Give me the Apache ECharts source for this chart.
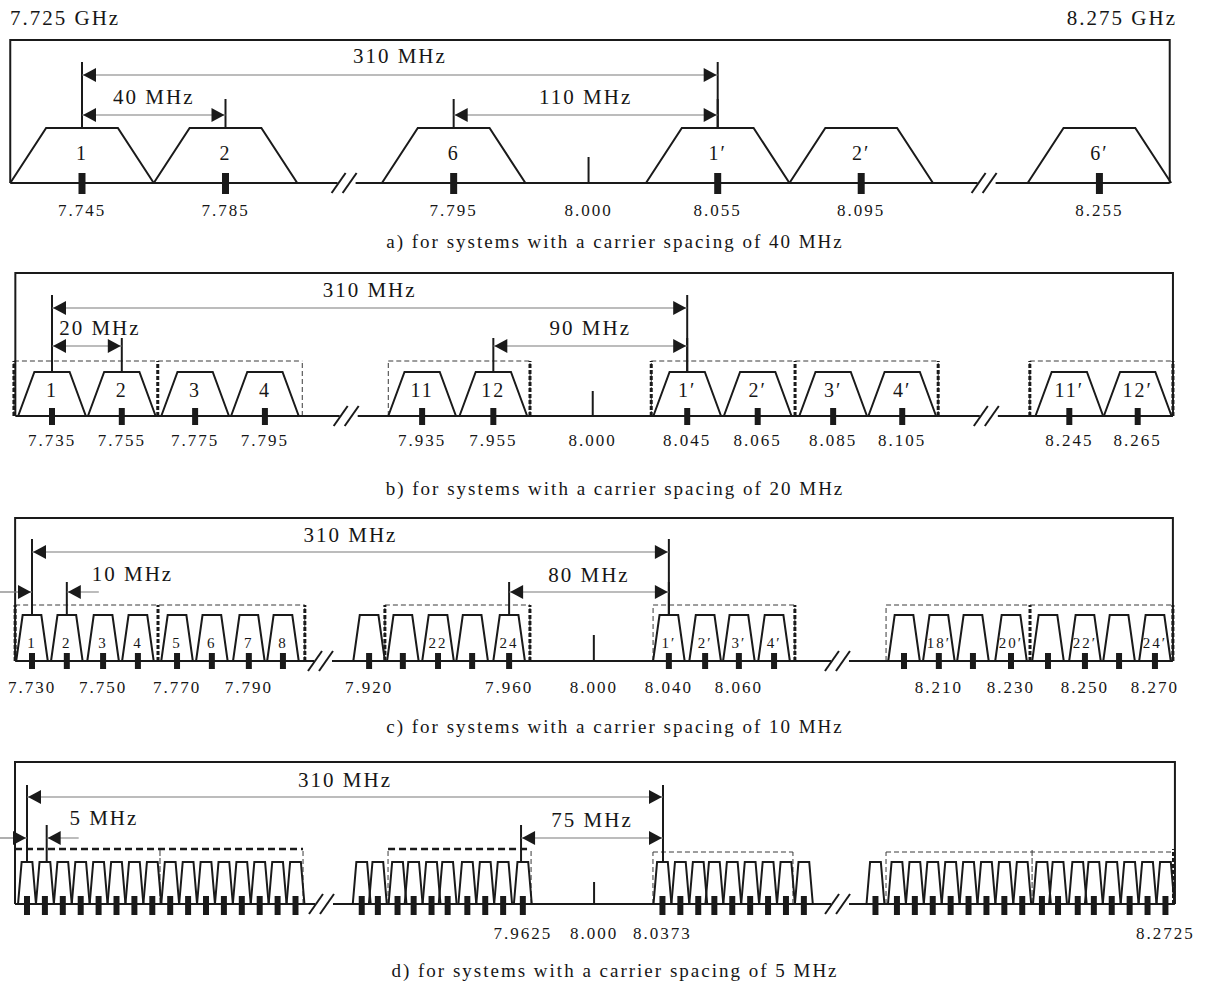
<!DOCTYPE html>
<html>
<head>
<meta charset="utf-8">
<title>RF channel arrangement 7.725 - 8.275 GHz</title>
<script src="https://cdn.jsdelivr.net/npm/echarts@6/dist/echarts.min.js"></script>
<style>
  html, body { margin: 0; padding: 0; background: #fff; }
  #chart { width: 1206px; height: 992px; }
  #chart svg text { letter-spacing: 2px; }
</style>
</head>
<body>
<div id="chart"></div>
<script>
// positions are in carrier slots of each panel (1 slot = one carrier spacing on the drawing)

// a) 40 MHz
var aSlot = [0, 1, 2.59, 4.43, 5.43, 7.09];
var aNum = ['1', '2', '6', '1′', '2′', '6′'];
var aFreq = ['7.745', '7.785', '7.795', '8.055', '8.095', '8.255'];
var aFrame = [-0.5, 7.58];
var aBreaks = [1.83, 6.29];
var aMid = [3.53];
var aSpanFrom = [0, 0, 2.59];
var aSpanTo = [4.43, 1, 4.43];
var aSpanText = ['310 MHz', '40 MHz', '110 MHz'];

// b) 20 MHz
var bSlot = [0, 0.99, 2.03, 3.02, 5.25, 6.26, 9.01, 10.01, 11.08, 12.06, 14.43, 15.4];
var bNum = ['1', '2', '3', '4', '11', '12', '1′', '2′', '3′', '4′', '11′', '12′'];
var bFreq = ['7.735', '7.755', '7.775', '7.795', '7.935', '7.955', '8.045', '8.065', '8.085', '8.105', '8.245', '8.265'];
var bFrame = [-0.52, 15.9];
var bBreaks = [4.18, 13.26];
var bMid = [7.67];
var bBoxes = [[-0.54, 3.55], [4.77, 6.78], [8.5, 12.57], [13.87, 15.9]];
var bHeavy = [-0.54, 1.5, 6.78, 8.5, 10.54, 12.57, 13.87, 15.9];
var bSpanFrom = [0, 0, 6.26];
var bSpanTo = [9.01, 0.99, 9.01];
var bSpanText = ['310 MHz', '20 MHz', '90 MHz'];

// c) 10 MHz
var cSlot = [0, 0.97, 1.98, 2.95, 4.04, 5.01, 6.04, 6.99,
  9.39, 10.33, 11.31, 12.26, 13.29,
  17.74, 18.75, 19.69, 20.67,
  24.29, 25.26, 26.21, 27.27, 28.3, 29.33, 30.28, 31.28];
var cNum = ['1', '2', '3', '4', '5', '6', '7', '8',
  '', '', '22', '', '24',
  '1′', '2′', '3′', '4′',
  '', '18′', '', '20′', '', '22′', '', '24′'];
var cFreq = ['7.730', '', '7.750', '', '7.770', '', '7.790', '',
  '7.920', '', '', '', '7.960',
  '8.040', '', '8.060', '',
  '', '8.210', '', '8.230', '', '8.250', '', '8.270'];
var cFrame = [-0.47, 31.78];
var cBreaks = [8.05, 22.45];
var cMid = [15.65];
var cBoxes = [[-0.47, 7.6], [9.83, 13.87], [17.3, 21.25], [23.79, 31.78]];
var cHeavy = [-0.47, 3.51, 7.6, 9.83, 13.87, 21.25, 27.8, 31.78];
var cSpanFrom = [0, 0, 13.29];
var cSpanTo = [17.74, 0.97, 17.74];
var cSpanText = ['310 MHz', '10 MHz', '80 MHz'];

// d) 5 MHz
var dSlot = [0, 1, 2, 3, 4, 5, 6, 7, 8, 9, 10, 11, 12, 13, 14, 15,
  18.7, 19.6, 20.7, 21.6, 22.6, 23.5, 24.6, 25.6, 26.6, 27.7,
  35.5, 36.5, 37.5, 38.4, 39.4, 40.4, 41.4, 42.4, 43.4,
  47.4, 48.6, 49.6, 50.6, 51.6, 52.6, 53.6, 54.6, 55.6, 56.7, 57.6, 58.7, 59.6, 60.6, 61.6, 62.6, 63.6];
var dFreq = ['', '', '', '', '', '', '', '', '', '', '', '', '', '', '', '',
  '', '', '', '', '', '', '', '', '', '7.9625',
  '8.0373', '', '', '', '', '', '', '', '',
  '', '', '', '', '', '', '', '', '', '', '', '', '', '', '', '', '8.2725'];
var dFrame = [-0.67, 64.13];
var dBreaks = [16.48, 45.31];
var dMid = [31.68];
var dBoxes = [[-0.67, 15.42], [20.17, 28.16], [34.97, 42.79], [47.99, 64.13]];
var dHeavy = [64.05];
var dDivide = [7.43, 56.15];
var dSpanFrom = [0, 0, 27.6];
var dSpanTo = [35.53, 1.1, 35.53];
var dSpanText = ['310 MHz', '5 MHz', '75 MHz'];

var midLabel = '8.000';

var W = 1206;
var INK = '#1a1a1a';
var TXT = '#161616';
var FONT = '"Liberation Serif", "Times New Roman", serif';
var BASE = { stroke: INK, lineWidth: 2 };
var EXT = { stroke: INK, lineWidth: 2 };
var SHAFT = { stroke: '#7a7a7a', lineWidth: 1.2 };

var panels = [
  { top: 40, base: 183, x0: 82, sp: 143.5, h: 55, halfB: 0.5, halfT: 0.25,
    numY: 30, numSize: 20, tickUp: 10, tickDown: 11, tickW: 7, freqY: -27,
    arrowY: [108, 68, 68], extTop: [121, 84, 84], labelY: [127, 86, 86],
    spanKind: ['out', 'out', 'out'], labelDx: [0, 0, 0], midTop: 26, boxTop: 0,
    caption: 'a) for systems with a carrier spacing of 40 MHz', captionY: 241,
    data: { slot: aSlot, num: aNum, freq: aFreq, frame: aFrame, breaks: aBreaks, mid: aMid,
      boxes: [], heavy: [], divide: [], from: aSpanFrom, to: aSpanTo, spanText: aSpanText } },
  { top: 273, base: 416, x0: 52, sp: 70.5, h: 44, halfB: 0.48, halfT: 0.25,
    numY: 26, numSize: 20, tickUp: 8, tickDown: 9, tickW: 6, freqY: -24,
    arrowY: [108, 70, 70], extTop: [121, 78, 78], labelY: [126, 88, 88],
    spanKind: ['out', 'out', 'out'], labelDx: [0, 13, 0], midTop: 25, boxTop: 55,
    caption: 'b) for systems with a carrier spacing of 20 MHz', captionY: 488,
    data: { slot: bSlot, num: bNum, freq: bFreq, frame: bFrame, breaks: bBreaks, mid: bMid,
      boxes: bBoxes, heavy: bHeavy, divide: [], from: bSpanFrom, to: bSpanTo, spanText: bSpanText } },
  { top: 518, base: 661, x0: 32, sp: 35.9, h: 46, halfB: 0.44, halfT: 0.26,
    numY: 18, numSize: 15, tickUp: 8, tickDown: 8, tickW: 6, freqY: -26,
    arrowY: [109, 69, 69], extTop: [122, 79, 79], labelY: [126, 87, 86],
    spanKind: ['out', 'in', 'out'], labelDx: [0, 83, 0], midTop: 26, boxTop: 56,
    caption: 'c) for systems with a carrier spacing of 10 MHz', captionY: 726,
    data: { slot: cSlot, num: cNum, freq: cFreq, frame: cFrame, breaks: cBreaks, mid: cMid,
      boxes: cBoxes, heavy: cHeavy, divide: [], from: cSpanFrom, to: cSpanTo, spanText: cSpanText } },
  { top: 762, base: 904, x0: 27, sp: 17.9, h: 42, halfB: 0.5, halfT: 0.3,
    numY: 0, numSize: 14, tickUp: 8, tickDown: 11, tickW: 6, freqY: -29,
    arrowY: [107, 66, 66], extTop: [119, 79, 79], labelY: [124, 86, 84],
    spanKind: ['out', 'in', 'out'], labelDx: [0, 67, 0], midTop: 22, boxTop: [55, 55, 52, 52],
    boxHeavy: [true, true, false, false],
    caption: 'd) for systems with a carrier spacing of 5 MHz', captionY: 970,
    data: { slot: dSlot, num: null, freq: dFreq, frame: dFrame, breaks: dBreaks, mid: dMid,
      boxes: dBoxes, heavy: dHeavy, divide: dDivide, from: dSpanFrom, to: dSpanTo, spanText: dSpanText } }
];

function pick(v, k) { return Array.isArray(v) ? v[k] : v; }

function lineEl(p1, p2, style) {
  return { type: 'line', shape: { x1: p1[0], y1: p1[1], x2: p2[0], y2: p2[1] }, style: style };
}

function textEl(x, y, text, size, align) {
  align = align || 'center';
  return {
    type: 'text', x: x, y: y,
    style: { text: text, fill: TXT, font: size + 'px ' + FONT,
      align: align, verticalAlign: 'middle', textAlign: align, textVerticalAlign: 'middle' }
  };
}

function head(tip, dir) {
  return {
    type: 'polygon',
    shape: { points: [[tip[0], tip[1]], [tip[0] - dir * 13, tip[1] - 7], [tip[0] - dir * 13, tip[1] + 7]] },
    style: { fill: INK }
  };
}

function channelItem(p, d) {
  return function (params, api) {
    var s = api.value(0), i = params.dataIndex;
    var c = api.coord([s, 0]);
    var kids = [{
      type: 'polyline',
      shape: { points: [api.coord([s - p.halfB, 0]), api.coord([s - p.halfT, p.h]),
        api.coord([s + p.halfT, p.h]), api.coord([s + p.halfB, 0])] },
      style: { stroke: INK, lineWidth: 2, fill: 'none' }
    }, {
      type: 'rect',
      shape: { x: c[0] - p.tickW / 2, y: c[1] - p.tickUp, width: p.tickW, height: p.tickUp + p.tickDown },
      style: { fill: INK }
    }];
    if (d.num && d.num[i]) kids.push(textEl(c[0], api.coord([s, p.numY])[1], d.num[i], p.numSize));
    if (d.freq[i]) kids.push(textEl(c[0], api.coord([s, p.freqY])[1], d.freq[i], 17));
    return { type: 'group', children: kids };
  };
}

function frameItem(p, d) {
  return function (params, api) {
    var L = api.value(0), R = api.value(1), H = p.base - p.top;
    var kids = [{
      type: 'polyline',
      shape: { points: [api.coord([L, 0]), api.coord([L, H]), api.coord([R, H]), api.coord([R, 0])] },
      style: { stroke: INK, lineWidth: 2, fill: 'none' }
    }];
    var x = api.coord([L, 0]);
    d.breaks.forEach(function (b) {
      var c = api.coord([b, 0]);
      kids.push(lineEl(x, [c[0] - 7, c[1]], BASE));
      kids.push(lineEl([c[0] - 13, c[1] + 10], [c[0] + 1, c[1] - 10], BASE));
      kids.push(lineEl([c[0] - 2, c[1] + 10], [c[0] + 12, c[1] - 10], BASE));
      x = [c[0] + 11, c[1]];
    });
    kids.push(lineEl(x, api.coord([R, 0]), BASE));
    return { type: 'group', children: kids };
  };
}

function midItem(p) {
  return function (params, api) {
    var m = api.value(0);
    var c = api.coord([m, 0]);
    return { type: 'group', children: [
      lineEl(c, api.coord([m, p.midTop]), BASE),
      textEl(c[0], api.coord([m, p.freqY])[1], midLabel, 17)
    ] };
  };
}

function boxItem(p) {
  return function (params, api) {
    var k = params.dataIndex, top = pick(p.boxTop, k);
    var l = api.value(0), r = api.value(1);
    var heavy = p.boxHeavy && p.boxHeavy[k];
    var thin = { stroke: '#3a3a3a', lineWidth: 1, lineDash: [5, 3] };
    return { type: 'group', children: [
      lineEl(api.coord([l, top]), api.coord([r, top]),
        heavy ? { stroke: INK, lineWidth: 2.5, lineDash: [7, 4] } : thin),
      lineEl(api.coord([l, 0]), api.coord([l, top]), thin),
      lineEl(api.coord([r, 0]), api.coord([r, top]), thin)
    ] };
  };
}

function heavyItem(p) {
  return function (params, api) {
    var x = api.value(0);
    return lineEl(api.coord([x, 0]), api.coord([x, pick(p.boxTop, 0)]),
      { stroke: INK, lineWidth: 3, lineDash: [4, 2] });
  };
}

function divideItem(p) {
  return function (params, api) {
    var x = api.value(0);
    return lineEl(api.coord([x, 0]), api.coord([x, pick(p.boxTop, 0)]),
      { stroke: '#3a3a3a', lineWidth: 1, lineDash: [6, 2] });
  };
}

function spanItem(p, d) {
  return function (params, api) {
    var k = params.dataIndex;
    var f = api.value(0), t = api.value(1);
    var y = p.arrowY[k];
    var a = api.coord([f, y]), b = api.coord([t, y]);
    var kids = [
      lineEl(api.coord([f, p.h]), api.coord([f, p.extTop[k]]), EXT),
      lineEl(api.coord([t, p.h]), api.coord([t, p.extTop[k]]), EXT)
    ];
    if (p.spanKind[k] === 'in') {
      kids.push(lineEl([a[0] - 32, a[1]], a, SHAFT), head([a[0] - 1, a[1]], 1));
      kids.push(lineEl([b[0] + 32, b[1]], b, SHAFT), head([b[0] + 1, b[1]], -1));
    } else {
      kids.push(lineEl(a, b, SHAFT), head([a[0] + 1, a[1]], -1), head([b[0] - 1, b[1]], 1));
    }
    var ly = api.coord([f, p.labelY[k]])[1];
    kids.push(textEl((a[0] + b[0]) / 2 + p.labelDx[k], ly, d.spanText[k], 21));
    return { type: 'group', children: kids };
  };
}

var grids = [], xAxes = [], yAxes = [], series = [];
var graphics = [
  textEl(10, 18, '7.725 GHz', 21, 'left'),
  textEl(1177, 18, '8.275 GHz', 21, 'right')
];

panels.forEach(function (p, i) {
  var d = p.data;
  grids.push({ left: 0, top: p.top, width: W, height: p.base - p.top });
  xAxes.push({ gridIndex: i, type: 'value', min: -p.x0 / p.sp, max: (W - p.x0) / p.sp, show: false });
  yAxes.push({ gridIndex: i, type: 'value', min: 0, max: p.base - p.top, show: false });

  var common = { type: 'custom', xAxisIndex: i, yAxisIndex: i, silent: true, animation: false };
  series.push(Object.assign({}, common, {
    name: 'boxes' + i, data: d.boxes, renderItem: boxItem(p) }));
  series.push(Object.assign({}, common, {
    name: 'divide' + i, data: d.divide.map(function (v) { return [v, 0]; }), renderItem: divideItem(p) }));
  series.push(Object.assign({}, common, {
    name: 'frame' + i, data: [d.frame], renderItem: frameItem(p, d) }));
  series.push(Object.assign({}, common, {
    name: 'channels' + i, data: d.slot.map(function (v) { return [v, 0]; }), renderItem: channelItem(p, d) }));
  series.push(Object.assign({}, common, {
    name: 'mid' + i, data: d.mid.map(function (v) { return [v, 0]; }), renderItem: midItem(p) }));
  series.push(Object.assign({}, common, {
    name: 'heavy' + i, data: d.heavy.map(function (v) { return [v, 0]; }), renderItem: heavyItem(p) }));
  series.push(Object.assign({}, common, {
    name: 'spans' + i, data: d.from.map(function (v, k) { return [v, d.to[k]]; }), renderItem: spanItem(p, d) }));

  graphics.push(textEl(615, p.captionY, p.caption, 19));
});

var chart = echarts.init(document.getElementById('chart'), null, { renderer: 'svg' });
chart.setOption({
  backgroundColor: '#fff',
  animation: false,
  grid: grids,
  xAxis: xAxes,
  yAxis: yAxes,
  graphic: graphics,
  series: series
});
</script>
</body>
</html>
